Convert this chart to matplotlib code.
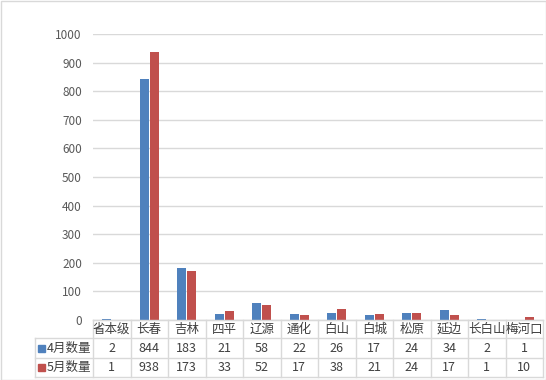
import matplotlib
matplotlib.use("Agg")
import matplotlib.pyplot as plt
from matplotlib.lines import Line2D
from matplotlib.patches import Rectangle
import numpy as np

plt.rcParams['font.family'] = ['Noto Sans CJK SC', 'DejaVu Sans']

categories = ['省本级', '长春', '吉林', '四平', '辽源', '通化', '白山', '白城', '松原', '延边', '长白山', '梅河口']
april = [2, 844, 183, 21, 58, 22, 26, 17, 24, 34, 2, 1]
may = [1, 938, 173, 33, 52, 17, 38, 21, 24, 17, 1, 10]
series_names = ['4月数量', '5月数量']
colors = ['#4F81BD', '#C0504D']
yticks = list(range(0, 1001, 100))

W, H = 546, 380
fig = plt.figure(figsize=(W / 100, H / 100), dpi=100)

x0, x1 = 93, 543
y_top, y_zero = 34, 320
ax = fig.add_axes([x0 / W, 1 - y_zero / H, (x1 - x0) / W, (y_zero - y_top) / H])

n = len(categories)
x = np.arange(n)
bw = 0.24
ax.bar(x - 0.135, april, width=bw, color=colors[0], zorder=3)
ax.bar(x + 0.135, may, width=bw, color=colors[1], zorder=3)
ax.set_xlim(-0.5, n - 0.5)
ax.set_ylim(0, 1000)
ax.set_yticks(yticks)
ax.set_yticklabels([str(v) for v in yticks], fontsize=8.5, color='#595959')
ax.tick_params(axis='y', length=0, pad=8)
ax.set_xticks([])
ax.yaxis.grid(True, color='#D9D9D9', linewidth=1, zorder=0)
for s in ['top', 'right', 'left']:
    ax.spines[s].set_visible(False)
ax.spines['bottom'].set_color('#D9D9D9')

# Table
def fx(px):
    return px / W

def fy(py):
    return 1 - py / H

line_c = '#D9D9D9'
rows_y = [320, 338, 358, 377]
left = 35
cw = (x1 - x0) / n
# horizontal lines
fig.add_artist(Line2D([fx(x0), fx(x1)], [fy(rows_y[0])] * 2, color=line_c, lw=1))
for ry in rows_y[1:]:
    fig.add_artist(Line2D([fx(left), fx(x1)], [fy(ry)] * 2, color=line_c, lw=1))
# vertical lines
for i in range(n + 1):
    xp = x0 + i * cw
    fig.add_artist(Line2D([fx(xp)] * 2, [fy(rows_y[0]), fy(rows_y[3])], color=line_c, lw=1))
fig.add_artist(Line2D([fx(left)] * 2, [fy(rows_y[1]), fy(rows_y[3])], color=line_c, lw=1))

tc = '#404040'
for i, c in enumerate(categories):
    xc = x0 + (i + 0.5) * cw
    fig.text(fx(xc), fy((rows_y[0] + rows_y[1]) / 2), c, ha='center', va='center', fontsize=9, color=tc)
    fig.text(fx(xc), fy((rows_y[1] + rows_y[2]) / 2), str(april[i]), ha='center', va='center', fontsize=9, color=tc)
    fig.text(fx(xc), fy((rows_y[2] + rows_y[3]) / 2), str(may[i]), ha='center', va='center', fontsize=9, color=tc)

for r, (name, col) in enumerate(zip(series_names, colors)):
    yc = (rows_y[r + 1] + rows_y[r + 2]) / 2
    fig.add_artist(Rectangle((fx(38), fy(yc + 3.5)), 7 / W, 7 / H, color=col))
    fig.text(fx(47), fy(yc), name, ha='left', va='center', fontsize=9, color=tc)

# outer border
fig.add_artist(Rectangle((0.5 / W, 0.5 / H), (W - 1) / W, (H - 1) / H, fill=False, edgecolor='#D9D9D9', lw=1))

fig.savefig('out.png', dpi=100)
